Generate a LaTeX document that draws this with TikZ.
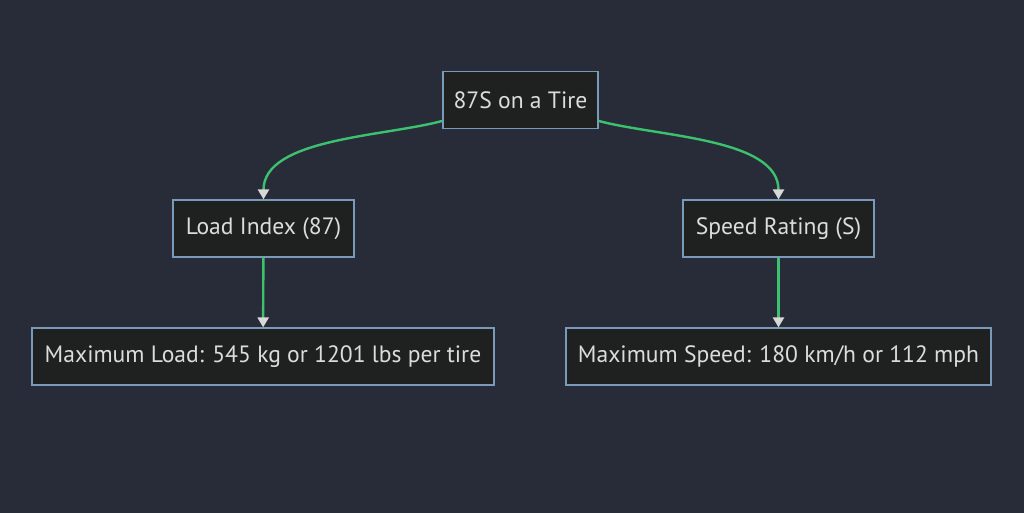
\documentclass[tikz,border=0pt]{standalone}
\usepackage{fontspec}
\setmainfont{PT Sans}
\usetikzlibrary{arrows.meta}
\definecolor{bgdark}{HTML}{282C38}
\definecolor{boxfill}{HTML}{1F2020}
\definecolor{boxline}{HTML}{7A9ABA}
\definecolor{txtgray}{HTML}{DCDCDC}
\definecolor{linkgreen}{HTML}{3CC26E}
\definecolor{tipgray}{HTML}{D8D8D8}
\tikzset{
  box/.style={draw=boxline, fill=boxfill, text=txtgray, line width=0.6pt,
    inner sep=0pt, font=\fontsize{11.8pt}{14pt}\selectfont, minimum height=28.5pt},
  link/.style={draw=linkgreen, line width=1.2pt,
    -{Triangle[color=tipgray,length=5pt,width=5.5pt]}}
}
\begin{document}
\begin{tikzpicture}[x=0.5pt, y=-0.5pt]
    \fill[bgdark] (0,0) rectangle (1024,513);
    \useasboundingbox (0,0) rectangle (1024,513);

    % Nodes {tire, load, speed, maxload, maxspeed}
    \node [box, minimum width=77.5pt]   (tire)     at (520.5,100)   {87S on a Tire};
    \node [box, minimum width=90.5pt]   (load)     at (263.5,228.5) {Load Index (87)};
    \node [box, minimum width=95.5pt]   (speed)    at (778.5,228.5) {Speed Rating (S)};
    \node [box, minimum width=231pt]    (maxload)  at (263,356.5)   {Maximum Load: 545 kg or 1201 lbs per tire};
    \node [box, minimum width=212.5pt]  (maxspeed) at (778.5,356.5) {Maximum Speed: 180 km/h or 112 mph};

    % Paths
    \draw [link] (tire) to [out=195, in=90, looseness=0.8] (load);
    \draw [link] (tire) to [out=-15, in=90, looseness=0.8] (speed);
    \draw [link] (load)  -- (maxload);
    \draw [link] (speed) -- (maxspeed);
\end{tikzpicture}
\end{document}
